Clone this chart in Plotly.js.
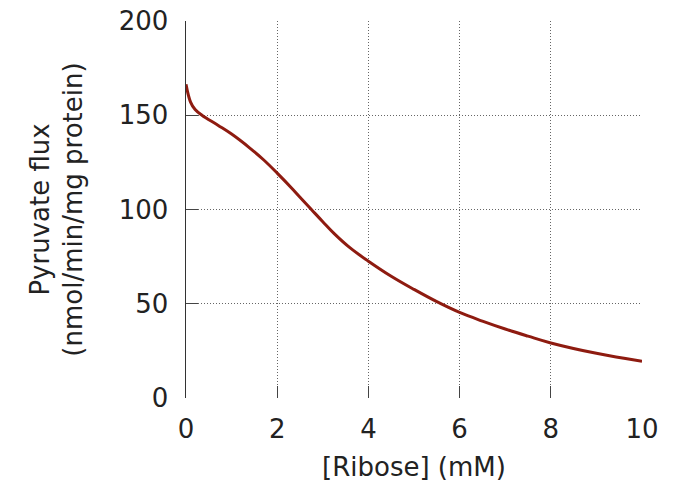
<!DOCTYPE html>
<html>
<head>
<meta charset="utf-8">
<script src="https://cdn.plot.ly/plotly-3.0.1.min.js"></script>
<style>html,body{margin:0;padding:0;background:#fff;}#chart{width:678px;height:489px;}</style>
</head>
<body>
<div id="chart"></div>
<script>
const riboseMM = [0, 0.1, 0.2, 0.35, 0.7, 1.0, 1.4, 1.7, 2.0, 2.35, 2.5, 2.75, 3.0, 3.25, 3.6, 4.0, 4.5, 5.0, 5.5, 6.0, 6.5, 7.0, 7.5, 8.0, 9.0, 10.0];
const pyruvateFlux = [166.4, 157, 153, 150, 144.7, 140, 132.6, 126.4, 119.3, 110.5, 106.5, 100, 93.5, 87.2, 79.6, 72.6, 64.6, 57.6, 51.1, 45.4, 40.8, 36.6, 32.8, 29.2, 23.7, 19.5];
const xTicks = [0, 2, 4, 6, 8, 10];
const yTicks = [0, 50, 100, 150, 200];
const xTitle = "[Ribose] (mM)";
const yTitle = "Pyruvate flux<br>(nmol/min/mg protein)";

const tickFont = {family: "DejaVu Sans, sans-serif", size: 26, color: "#222"};
const titleFont = {family: "DejaVu Sans, sans-serif", size: 26, color: "#222"};

Plotly.newPlot("chart", [{
  x: riboseMM, y: pyruvateFlux, type: "scatter", mode: "lines",
  line: {color: "#8e1b10", width: 3, shape: "spline", smoothing: 1.1},
  hoverinfo: "x+y"
}], {
  width: 678, height: 489,
  margin: {l: 186, r: 36, t: 21, b: 91, pad: 0},
  paper_bgcolor: "#fff", plot_bgcolor: "#fff",
  font: titleFont,
  showlegend: false,
  xaxis: {
    range: [0, 10], tickvals: xTicks, ticktext: xTicks.map(String),
    showgrid: true, gridcolor: "#666", griddash: "1px,2px", gridwidth: 1,
    showline: false, zeroline: false,
    ticks: "inside", ticklen: 12, tickcolor: "#444", tickwidth: 1,
    ticklabelstandoff: 13,
    tickfont: tickFont,
    title: {text: xTitle, font: titleFont, standoff: 14},
    automargin: false, fixedrange: true
  },
  yaxis: {
    range: [0, 200], tickvals: yTicks, ticktext: yTicks.map(String),
    showgrid: true, gridcolor: "#666", griddash: "1px,2px", gridwidth: 1,
    showline: true, linecolor: "#333", linewidth: 1.5, zeroline: false,
    ticks: "inside", ticklen: 12, tickcolor: "#444", tickwidth: 1,
    ticklabelstandoff: 11,
    tickfont: tickFont,
    title: {text: yTitle, font: titleFont, standoff: 28},
    automargin: false, fixedrange: true
  }
}, {displayModeBar: false, staticPlot: true});
</script>
</body>
</html>
